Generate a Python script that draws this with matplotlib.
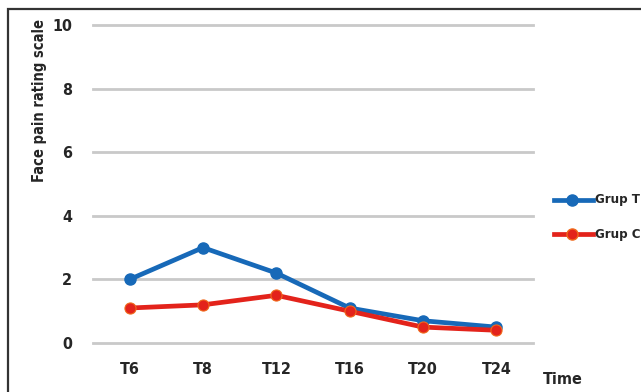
import matplotlib
matplotlib.use("Agg")
import matplotlib.pyplot as plt
from matplotlib.patches import Rectangle
from matplotlib.lines import Line2D

# data
times = ["T6", "T8", "T12", "T16", "T20", "T24"]
grup_t = [2.0, 3.0, 2.2, 1.1, 0.7, 0.5]
grup_c = [1.1, 1.2, 1.5, 1.0, 0.5, 0.4]
yticks = [0, 2, 4, 6, 8, 10]

blue = "#1769b8"
red = "#e3231b"
grid_col = "#c9c9c9"
txt_col = "#262626"
fnt = dict(family="DejaVu Sans", stretch="condensed", fontweight="bold",
           color=txt_col)

fig = plt.figure(figsize=(6.41, 3.92), dpi=100)
fig.patches.append(Rectangle((8 / 641, -0.1), 1.2, (392 - 9) / 392 + 0.1,
                             transform=fig.transFigure, fill=False,
                             edgecolor="#333333", linewidth=1.6))

ax = fig.add_axes([93 / 641, 49 / 392, 440 / 641, 318 / 392])
for v in yticks:
    ax.axhline(v, color=grid_col, linewidth=2, zorder=1, clip_on=False)

x = list(range(len(times)))
ax.plot(x, grup_t, color=blue, linewidth=3.4, marker="o", markersize=8,
        zorder=3, clip_on=False)
ax.plot(x, grup_c, color=red, linewidth=3.4, marker="o", markersize=8,
        markeredgecolor="#f06a1c", markeredgewidth=0.8,
        zorder=4, clip_on=False)

ax.set_xlim(-0.5, 5.5)
ax.set_ylim(0, 10)
ax.set_xticks(x)
ax.set_yticks(yticks)
ax.set_xticklabels(times, fontsize=11.5, **fnt)
ax.set_yticklabels([str(v) for v in yticks], fontsize=11.5, **fnt)
ax.tick_params(length=0, pad=14)
ax.tick_params(axis="y", pad=15)
for s in ax.spines.values():
    s.set_visible(False)
ax.patch.set_visible(False)

fig.text(40 / 641, 1 - 100 / 392, "Face pain rating scale", rotation=90,
         ha="center", va="center", fontsize=10.5, **fnt)
fig.text(563 / 641, 1 - 379 / 392, "Time", ha="center", va="center",
         fontsize=11.5, **fnt)

# legend drawn by hand
for yy, col, lab, ec in [(200, blue, "Grup T", blue), (234, red, "Grup C", "#f06a1c")]:
    fy = 1 - yy / 392
    fig.add_artist(Line2D([554 / 641, 593 / 641], [fy, fy], color=col,
                          linewidth=3.4, transform=fig.transFigure))
    fig.add_artist(Line2D([572 / 641], [fy], color=col, marker="o",
                          markersize=8, markeredgecolor=ec,
                          transform=fig.transFigure))
    fig.text(595 / 641, fy, lab, ha="left", va="center", fontsize=9.5, **fnt)

fig.savefig("out.png", dpi=100)
